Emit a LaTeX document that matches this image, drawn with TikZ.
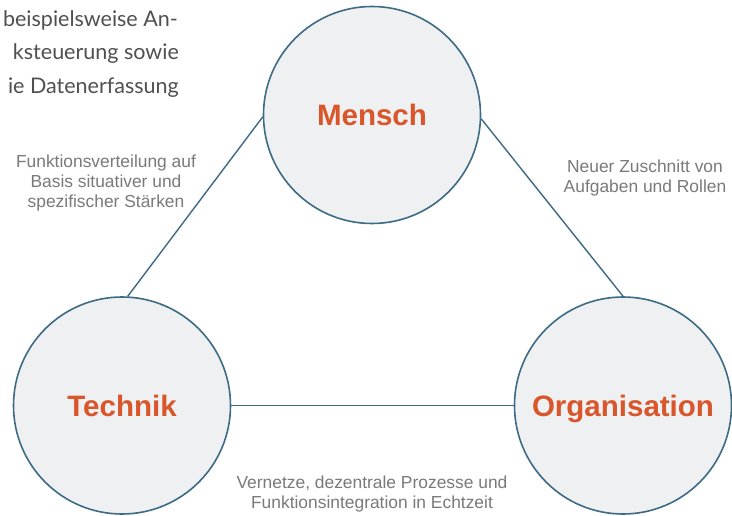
\documentclass[tikz,border=0pt]{standalone}
\usepackage{fontspec}
\setmainfont{Liberation Sans}
\newfontfamily\bodyfont{Lato}
\definecolor{ringblue}{HTML}{3D6B85}
\definecolor{ringfill}{HTML}{EFF0F1}
\definecolor{titleorange}{HTML}{D9552A}
\definecolor{labelgray}{HTML}{7A7A7A}
\definecolor{bodygray}{HTML}{505050}
\tikzset{
  ring/.style={circle, draw=ringblue, fill=ringfill, line width=1.6pt, minimum size=217pt, inner sep=0pt,
    font=\fontsize{29.5}{32}\selectfont\bfseries, text=titleorange, text height=21pt, text depth=0pt},
  conn/.style={draw=ringblue, line width=1.4pt},
  lbl/.style={align=center, font=\fontsize{17.4}{19.8}\selectfont, text=labelgray, inner sep=0pt},
  bodyline/.style={anchor=base east, inner sep=0pt, font=\bodyfont\fontsize{21.5}{26}\selectfont, text=bodygray}
}
\begin{document}
\begin{tikzpicture}[x=1pt,y=-1pt]
\useasboundingbox (0,0) rectangle (732,516);
\clip (0,0) rectangle (732,516);
\fill[white] (0,0) rectangle (732,516);

\node[bodyline] (b1) at (178,27) {beispielsweise An-};
\node[bodyline] (b2) at (179,60) {ksteuerung sowie};
\node[bodyline] (b3) at (179,94) {ie Datenerfassung};

\node[ring] (M) at (372,115) {Mensch};
\node[ring] (T) at (122,405.5) {Technik};
\node[ring] (O) at (623,405.5) {Organisation};

\draw[conn] (T.87) -- (M.181.5);
\draw[conn] (M.358.5) -- (O.90);
\draw[conn] (T.0) -- (O.180);

\node[lbl] (l1) at (106,183) {Funktionsverteilung auf\\Basis situativer und\\spezifischer Stärken};
\node[lbl] (l2) at (645,178) {Neuer Zuschnitt von\\Aufgaben und Rollen};
\node[lbl] (l3) at (372,494) {Vernetze, dezentrale Prozesse und\\Funktionsintegration in Echtzeit};
\end{tikzpicture}
\end{document}
